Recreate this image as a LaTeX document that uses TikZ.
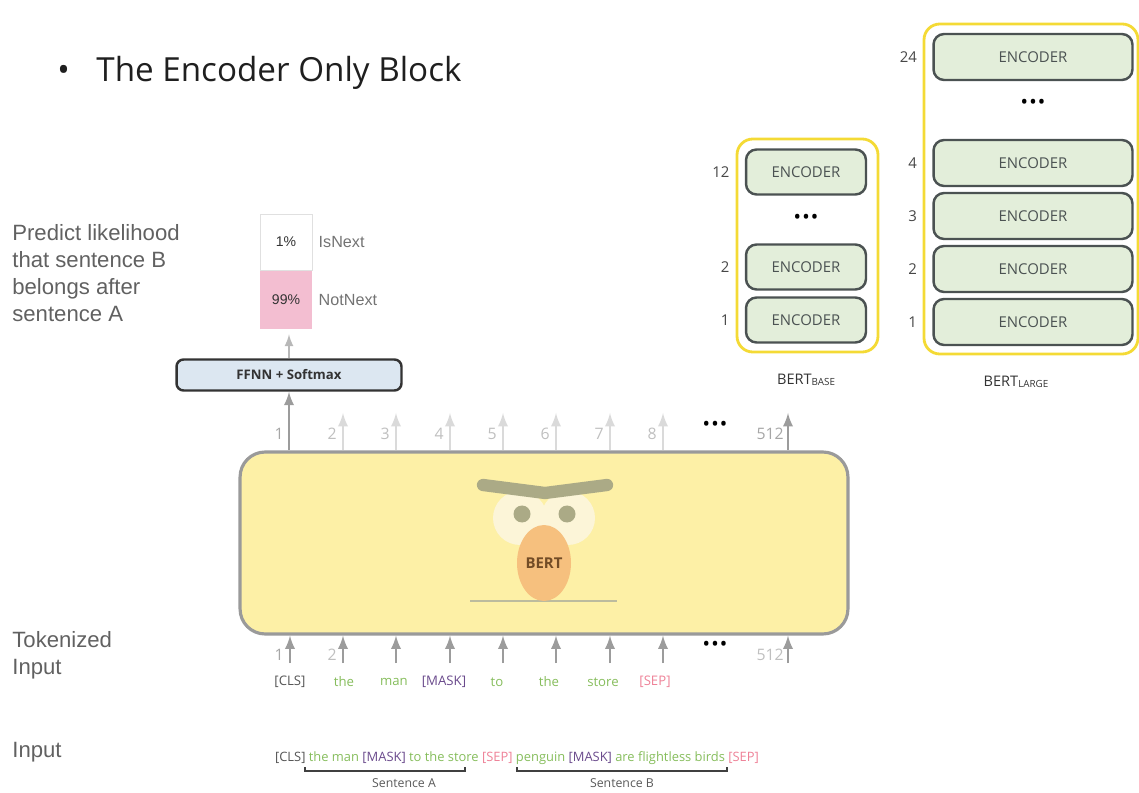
\documentclass[tikz,border=0pt]{standalone}
\usepackage{fontspec}
\setmainfont{Open Sans}
\newfontfamily\helv{Liberation Sans}
\usetikzlibrary{positioning,shapes.geometric}

\definecolor{bertyellow}{HTML}{FDF0A6}
\definecolor{boxgray}{HTML}{9A9A9A}
\definecolor{arrowgray}{HTML}{9C9C9C}
\definecolor{fadedgray}{HTML}{DADADA}
\definecolor{encfill}{HTML}{E3EEDA}
\definecolor{encline}{HTML}{4B5252}
\definecolor{frameyellow}{HTML}{F4DA35}
\definecolor{ffnnfill}{HTML}{DCE7F1}
\definecolor{probpink}{HTML}{F3BED1}
\definecolor{wordgreen}{HTML}{86BD5C}
\definecolor{maskpurple}{HTML}{6A4A8C}
\definecolor{seppink}{HTML}{EE8197}
\definecolor{clsgray}{HTML}{555555}
\definecolor{browgray}{HTML}{ABAA86}
\definecolor{eyecream}{HTML}{FCF5D8}
\definecolor{noseorange}{HTML}{F6C07E}

\tikzset{
  encbase/.style={draw=encline,fill=encfill,line width=1.4pt,rounded corners=6pt,
    minimum width=2.4cm,minimum height=0.9cm,text=encline,font=\fontsize{8.5}{10}\selectfont},
  enclarge/.style={encbase,minimum width=3.98cm,minimum height=0.92cm},
  layernum/.style={inner sep=0pt,text=black!72,font=\fontsize{8.5}{10}\selectfont},
  frame/.style={draw=frameyellow,line width=1.6pt,rounded corners=9pt},
  grayarrow/.style={->,draw=arrowgray,line width=1.6pt},
  fadedarrow/.style={->,draw=fadedgray,line width=1.6pt},
  idx/.style={inner sep=0pt,anchor=east,font=\fontsize{9}{10}\selectfont},
  token/.style={inner sep=1pt,font=\fontsize{7.5}{9}\selectfont},
  sidetext/.style={anchor=west,align=left,inner sep=0pt,text=black!62,
    font=\helv\fontsize{12.6}{15.3}\selectfont},
  dots/.style={inner sep=0pt,font=\bfseries\fontsize{9}{10}\selectfont},
  stacklabel/.style={text=black!80,font=\fontsize{8.3}{10}\selectfont},
}

\begin{document}
\begin{tikzpicture}[x=0.02cm,y=-0.02cm,>=latex]
\useasboundingbox (0,0) rectangle (1139,793);

% title
\node[anchor=west,inner sep=0pt,text=black!88,font=\fontsize{18.9}{22}\selectfont] (title) at (57,73)
  {\textbullet\hspace{0.8em}The Encoder Only Block};

% side captions
\node[sidetext] (predict) at (12,273) {Predict likelihood\\that sentence B\\belongs after\\sentence A};
\node[sidetext] (tokenized) at (12,655) {Tokenized\\Input};
\node[sidetext] (input) at (12,752) {Input};

% classifier head
\node[draw=black!80,fill=ffnnfill,line width=1.4pt,rounded corners=4pt,minimum width=4.5cm,
  minimum height=0.62cm,font=\bfseries\fontsize{7.5}{9}\selectfont,text=black!80] (ffnn) at (289,375) {FFNN + Softmax};
\node[draw=black!12,fill=white,minimum width=1.04cm,minimum height=1.12cm,inner sep=0pt,
  font=\helv\fontsize{8}{9}\selectfont,text=black!80] (p1) at (286,242) {1\%};
\node[fill=probpink,minimum width=1.04cm,minimum height=1.16cm,inner sep=0pt,below=0pt of p1,
  font=\helv\fontsize{8}{9}\selectfont,text=black!80] (p2) {99\%};
\node[right=0.12cm of p1,inner sep=0pt,text=black!55,font=\helv\fontsize{9.2}{10}\selectfont] (isnext) {IsNext};
\node[right=0.12cm of p2,inner sep=0pt,text=black!55,font=\helv\fontsize{9.2}{10}\selectfont] (notnext) {NotNext};
\draw[->,draw=black!28,line width=1.3pt,shorten >=3pt] (ffnn.north) -- (ffnn.north |- p2.south);

% the BERT block
\node[draw=boxgray,fill=bertyellow,line width=1.8pt,rounded corners=0.5cm,
  minimum width=12.16cm,minimum height=3.64cm] (bert) at (544,543) {};
% face
\fill[eyecream] (520,518) circle (27) (568,518) circle (27);
\draw[browgray,line width=7pt,line cap=round] (483,485) -- (545,493) -- (607,485);
\fill[browgray] (522,514) circle (8.5) (567,514) circle (8.5);
\draw[browgray!80,line width=0.7pt] (470,601) -- (617,601);
\node[ellipse,fill=noseorange,minimum width=1.08cm,minimum height=1.52cm,inner sep=0pt,
  text=brown!60!black,font=\bfseries\fontsize{8.5}{10}\selectfont] (nose) at (544,563) {BERT};

% outputs
\draw[grayarrow] (ffnn.south |- bert.north) -- (ffnn.south);
\node[idx,text=black!35] (out1label) at (284,434) {1};
\foreach \i/\x in {2/343,3/396,4/450,5/503,6/556,7/610,8/663}{
  \coordinate (out\i) at (\x,413);
  \draw[fadedarrow] (out\i |- bert.north) -- (out\i);
  \node[idx,text=black!25] (out\i label) at (\x-6,434) {\i};
}
\coordinate (out512) at (788,413);
\draw[grayarrow] (out512 |- bert.north) -- (out512);
\node[idx,text=black!35] (out512label) at (784,434) {512};
\node[dots] (outdots) at (715,425) {•\,•\,•};

% inputs
\foreach \i/\x in {1/290,2/343,3/396,4/450,5/503,6/556,7/610,8/663,512/788}{
  \coordinate (in\i) at (\x,663);
  \draw[grayarrow] (in\i) -- (in\i |- bert.south);
}
\node[idx,text=black!35] (in1label) at (284,655) {1};
\node[idx,text=black!25] (in2label) at (337,655) {2};
\node[idx,text=black!25] (in512label) at (784,655) {512};
\node[dots] (indots) at (715,645) {•\,•\,•};

% tokens
\node[token,text=clsgray] (tok1) at (290,682) {[CLS]};
\foreach \i/\x/\w in {2/344/the,3/394/man,5/497/to,6/549/the,7/603/store}{
  \node[token,text=wordgreen] (tok\i) at (\x,682) {\w};
}
\node[token,text=maskpurple] (tok4) at (444,682) {[MASK]};
\node[token,text=seppink] (tok8) at (655,682) {[SEP]};

% raw input sequence
\node[inner sep=0pt,font=\fontsize{7.35}{9}\selectfont] (seq) at (517,758)
  {\textcolor{clsgray}{[CLS]} \textcolor{wordgreen}{the man} \textcolor{maskpurple}{[MASK]}
   \textcolor{wordgreen}{to the store} \textcolor{seppink}{[SEP]} \textcolor{wordgreen}{penguin}
   \textcolor{maskpurple}{[MASK]} \textcolor{wordgreen}{are flightless birds} \textcolor{seppink}{[SEP]}};
\draw[black!75,line width=0.8pt] (305,767) -- (305,771) -- (465,771) -- (465,767);
\draw[black!75,line width=0.8pt] (517,767) -- (517,771) -- (727,771) -- (727,767);
\node[inner sep=0pt,text=black!65,font=\fontsize{7}{8}\selectfont] (senta) at (404,783) {Sentence A};
\node[inner sep=0pt,text=black!65,font=\fontsize{7}{8}\selectfont] (sentb) at (622,783) {Sentence B};

% BERT base stack
\draw[frame] (737,139) rectangle (878,352);
\foreach \n/\y in {12/172,2/267,1/320}{
  \node[encbase] (base\n) at (806,\y) {ENCODER};
  \node[layernum,left=0.3cm of base\n] (basenum\n) {\n};
}
\node[dots] (basedots) at (806,218) {•\,•\,•};
\node[stacklabel] (baselabel) at (806,380)
  {BERT\raisebox{-0.6pt}{\fontsize{5.6}{6}\selectfont BASE}};

% BERT large stack
\draw[frame] (924,24) rectangle (1138,354);
\foreach \n/\y in {24/57,4/163,3/216,2/269,1/322}{
  \node[enclarge] (large\n) at (1033,\y) {ENCODER};
  \node[layernum,left=0.3cm of large\n] (largenum\n) {\n};
}
\node[dots] (largedots) at (1033,103) {•\,•\,•};
\node[stacklabel] (largelabel) at (1016,382)
  {BERT\raisebox{-0.6pt}{\fontsize{5.6}{6}\selectfont LARGE}};
\end{tikzpicture}
\end{document}
